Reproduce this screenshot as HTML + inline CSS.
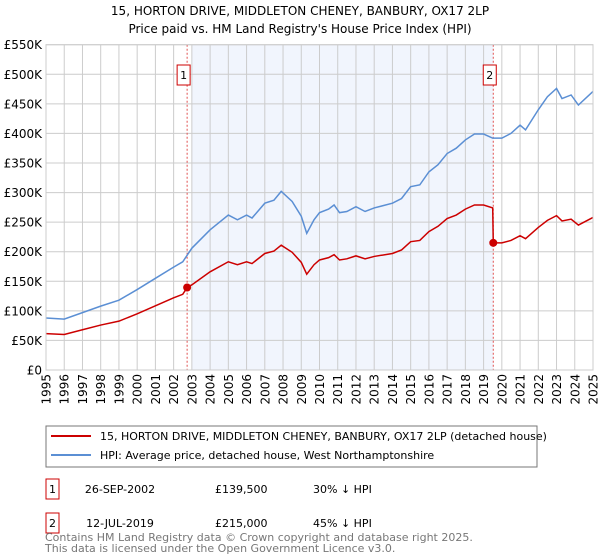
<!DOCTYPE html>
<html><head><meta charset="utf-8"><style>
body{margin:0;width:600px;height:560px;background:#fff;font-family:"DejaVu Sans","Liberation Sans",sans-serif;overflow:hidden}
svg{position:absolute;left:0;top:0}
text{font-family:"DejaVu Sans","Liberation Sans",sans-serif}
</style></head><body>
<svg id="c" width="600" height="560"></svg>
<script>
const hpiYears=[1995,1996,1997,1998,1999,2000,2001,2002,2002.5,2003,2004,2005,2005.5,2006,2006.3,2007,2007.5,2007.9,2008.5,2009,2009.3,2009.7,2010,2010.5,2010.8,2011.1,2011.5,2012,2012.5,2013,2014,2014.5,2015,2015.5,2016,2016.5,2017,2017.5,2018,2018.5,2019,2019.5,2020,2020.5,2021,2021.3,2022,2022.5,2023,2023.3,2023.8,2024.2,2025];
const hpiValues=[88,86,97,108,118,136,155,174,183,206,237,262,254,262,257,282,287,302,285,260,231,254,266,272,279,266,268,276,268,274,282,290,310,313,335,347,366,375,389,399,399,392,392,400,414,406,440,462,476,459,465,448,471];
const priceYears=[1995,1996,1997,1998,1999,2000,2001,2002,2002.5,2002.74,2003,2004,2005,2005.5,2006,2006.3,2007,2007.5,2007.9,2008.5,2009,2009.3,2009.7,2010,2010.5,2010.8,2011.1,2011.5,2012,2012.5,2013,2014,2014.5,2015,2015.5,2016,2016.5,2017,2017.5,2018,2018.5,2019,2019.5,2019.53,2020,2020.5,2021,2021.3,2022,2022.5,2023,2023.3,2023.8,2024.2,2025];
const priceValues=[61.5,60,68,76,82.6,95,108.5,122,128,139.5,144,166,183,178,183,180,197,201,211,199,182,162,178,186,190,195,186,188,193,188,192,197,203,217,219,234,243,256,262,272,279,279,274,215,215,219,227,222,241,253,261,252,255,245,258];
const saleYears=[2002.74,2019.53];
const saleValues=[139.5,215];
const saleLabels=["1","2"];
const yTicks=[0,50,100,150,200,250,300,350,400,450,500,550];
const yTickLabels=["£0","£50K","£100K","£150K","£200K","£250K","£300K","£350K","£400K","£450K","£500K","£550K"];
const xTicks=[1995,1996,1997,1998,1999,2000,2001,2002,2003,2004,2005,2006,2007,2008,2009,2010,2011,2012,2013,2014,2015,2016,2017,2018,2019,2020,2021,2022,2023,2024,2025];

const NS="http://www.w3.org/2000/svg";
const svg=document.getElementById('c');
const X0=46,X1=593,Y0=370,Y1=44.7;
const xs=y=>X0+(y-1995)/30*(X1-X0);
const ys=v=>Y0-v/550*(Y0-Y1);
function mk(tag,attrs,parent){const e=document.createElementNS(NS,tag);for(const k in attrs)e.setAttribute(k,attrs[k]);(parent||svg).appendChild(e);return e;}

let t=mk('text',{x:300,y:15,'text-anchor':'middle','font-size':'12',fill:'#000'});t.textContent="15, HORTON DRIVE, MIDDLETON CHENEY, BANBURY, OX17 2LP";


t=mk('text',{x:300,y:33,'text-anchor':'middle','font-size':'12',fill:'#000'});t.textContent="Price paid vs. HM Land Registry's House Price Index (HPI)";



let sh=mk('rect',{x:xs(2003),y:Y1,width:xs(saleYears[1])-xs(2003),height:Y0-Y1,fill:'#eef3fc',opacity:'0.8'});



yTicks.forEach((v,i)=>{
 const g=mk('line',{x1:X0,x2:X1,y1:ys(v),y2:ys(v),stroke:'#ccc','stroke-width':'1'});
 
 
 const l=mk('text',{x:X0-4,y:ys(v)+4.5,'text-anchor':'end','font-size':'12',fill:'#000'});l.textContent=yTickLabels[i];
 
 
});
xTicks.forEach(yr=>{
 const g=mk('line',{x1:xs(yr),x2:xs(yr),y1:Y1,y2:Y0,stroke:'#ccc','stroke-width':'1'});
 
 
 const l=mk('text',{x:0,y:0,'text-anchor':'end','font-size':'12',fill:'#000',transform:`translate(${xs(yr)+4.5},${Y0+4}) rotate(-90)`});l.textContent=yr;
 
 
});

saleYears.forEach((yr,i)=>{
 const d=mk('line',{x1:xs(yr),x2:xs(yr),y1:Y1,y2:Y0,stroke:'#e05050','stroke-width':'1','stroke-dasharray':'2,2'});
 
 
 const b=mk('rect',{x:xs(yr)-10,y:65,width:13,height:20,fill:'#fff',stroke:'#c00','stroke-width':'1'});
 
 
 const l=mk('text',{x:xs(yr)-3.5,y:79,'text-anchor':'middle','font-size':'11',fill:'#000'});l.textContent=saleLabels[i];
 
 
});

let p=mk('polyline',{points:hpiYears.map((y,i)=>xs(y)+','+ys(hpiValues[i])).join(' '),fill:'none',stroke:'#5b8fd4','stroke-width':'1.5'});


p=mk('polyline',{points:priceYears.map((y,i)=>xs(y)+','+ys(priceValues[i])).join(' '),fill:'none',stroke:'#cc0000','stroke-width':'1.5'});


saleYears.forEach((yr,i)=>{
 const c=mk('circle',{cx:xs(yr),cy:ys(saleValues[i]),r:4,fill:'#cc0000'});
 
 
});
let ax=mk('rect',{x:X0,y:Y1,width:X1-X0,height:Y0-Y1,fill:'none',stroke:'#ccc'});



// legend
let lg=mk('rect',{x:46,y:426,width:491,height:41,fill:'#fff',stroke:'#777'});


let ll=mk('line',{x1:51,x2:91,y1:436,y2:436,stroke:'#cc0000','stroke-width':'2'});


t=mk('text',{x:100,y:440,'font-size':'11',fill:'#000'});t.textContent="15, HORTON DRIVE, MIDDLETON CHENEY, BANBURY, OX17 2LP (detached house)";


ll=mk('line',{x1:51,x2:91,y1:455,y2:455,stroke:'#5b8fd4','stroke-width':'2'});


t=mk('text',{x:100,y:459,'font-size':'11',fill:'#000'});t.textContent="HPI: Average price, detached house, West Northamptonshire";



const rows=[["1","26-SEP-2002","£139,500","30% ↓ HPI",492],["2","12-JUL-2019","£215,000","45% ↓ HPI",526]];
rows.forEach(r=>{
 const b=mk('rect',{x:46,y:r[4]-13,width:13,height:20,fill:'#fff',stroke:'#c00'});
 
 
 const cells=[[52.5,'middle',r[0]],[120,'middle',r[1]],[215,'start',r[2]],[313,'start',r[3]]];
 cells.forEach(c=>{
  const e=mk('text',{x:c[0],y:r[4]+1,'text-anchor':c[1],'font-size':'11',fill:'#000'});e.textContent=c[2];
  
  
 });
});
t=mk('text',{x:45,y:541,'font-size':'11',fill:'#777'});t.textContent="Contains HM Land Registry data © Crown copyright and database right 2025.";


t=mk('text',{x:45,y:552,'font-size':'11',fill:'#777'});t.textContent="This data is licensed under the Open Government Licence v3.0.";


</script>
</body></html>
